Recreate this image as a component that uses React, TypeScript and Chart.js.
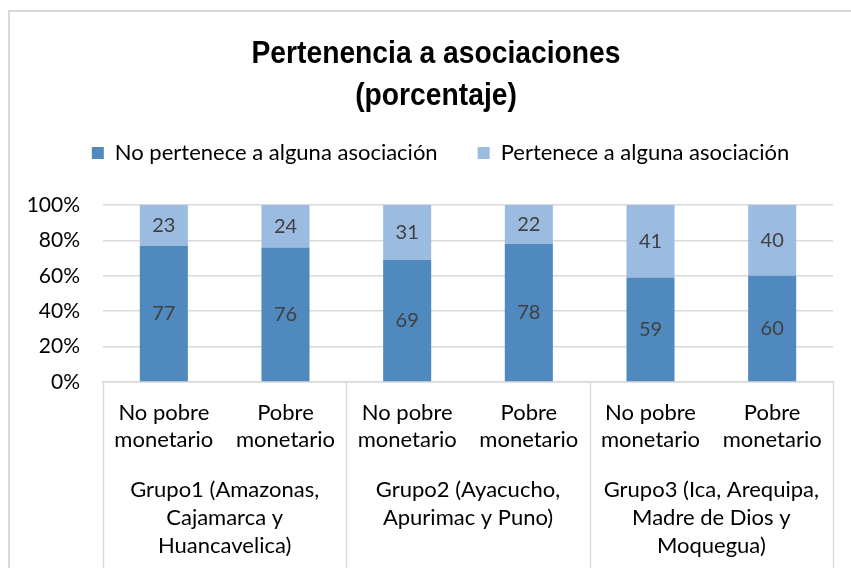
import React, { useEffect, useRef } from "react";
import { Chart, registerables } from "chart.js";

Chart.register(...registerables);

const subCategories: string[][] = [
  ["No pobre", "monetario"],
  ["Pobre", "monetario"],
  ["No pobre", "monetario"],
  ["Pobre", "monetario"],
  ["No pobre", "monetario"],
  ["Pobre", "monetario"],
];
const groups: string[][] = [
  ["Grupo1 (Amazonas,", "Cajamarca y", "Huancavelica)"],
  ["Grupo2 (Ayacucho,", "Apurimac y Puno)"],
  ["Grupo3 (Ica, Arequipa,", "Madre de Dios y", "Moquegua)"],
];
const noPertenece: number[] = [77, 76, 69, 78, 59, 60];
const pertenece: number[] = [23, 24, 31, 22, 41, 40];
const seriesNames: string[] = ["No pertenece a alguna asociación", "Pertenece a alguna asociación"];
const titleLines: string[] = ["Pertenencia a asociaciones", "(porcentaje)"];
const yTickMax = 100;
const yTickStep = 20;

const FONT = "Lato, 'Open Sans', sans-serif";
const GRID = "#d9d9d9";

const titleDraw = {
  id: "titleDraw",
  afterDraw(chart: any) {
    const ctx = chart.ctx;
    ctx.save();
    ctx.font = "bold 32px 'Liberation Sans', Arial, sans-serif";
    ctx.fillStyle = "#000";
    ctx.textAlign = "center";
    ctx.textBaseline = "alphabetic";
    const sx = 0.883;
    ctx.scale(sx, 1);
    const cx = 436 / sx;
    titleLines.forEach((line, i) => {
      ctx.fillText(line, cx, 63 + i * 42);
    });
    ctx.restore();
  },
};

const dataLabels = {
  id: "dataLabels",
  afterDatasetsDraw(chart: any) {
    const ctx = chart.ctx;
    ctx.save();
    ctx.font = `20px ${FONT}`;
    ctx.fillStyle = "#404040";
    ctx.textAlign = "center";
    ctx.textBaseline = "middle";
    chart.data.datasets.forEach((ds: any, di: number) => {
      const meta = chart.getDatasetMeta(di);
      meta.data.forEach((el: any, i: number) => {
        const cy = (el.y + el.base) / 2;
        ctx.fillText(String(ds.data[i]), el.x, cy);
      });
    });
    ctx.restore();
  },
};

const separators = {
  id: "separators",
  afterDraw(chart: any) {
    const x = chart.scales.x;
    const ctx = chart.ctx;
    const bounds = [-0.5, 1.5, 3.5, 5.5];
    ctx.save();
    ctx.strokeStyle = GRID;
    ctx.lineWidth = 1.5;
    bounds.forEach((b) => {
      const px = Math.round(x.getPixelForValue(b)) + 0.5;
      ctx.beginPath();
      ctx.moveTo(px, chart.chartArea.bottom);
      ctx.lineTo(px, chart.height);
      ctx.stroke();
    });
    ctx.restore();
  },
};

const legendSpace = {
  id: "legendSpace",
  beforeInit(chart: any) {
    const fit = chart.legend.fit;
    chart.legend.fit = function () {
      fit.bind(chart.legend)();
      this.height += 31;
    };
  },
  afterLayout(chart: any) {
    chart.legend.left += 24;
    chart.legend.right += 24;
  },
};

export default function App() {
  const ref = useRef<HTMLCanvasElement | null>(null);
  useEffect(() => {
    if (!ref.current) return;
    const chart = new Chart(ref.current, {
      type: "bar",
      data: {
        labels: subCategories,
        datasets: [
          {
            label: seriesNames[0],
            data: noPertenece,
            backgroundColor: "#4F89BD",
            barPercentage: 0.395,
            categoryPercentage: 1,
          },
          {
            label: seriesNames[1],
            data: pertenece,
            backgroundColor: "#9BBCE0",
            barPercentage: 0.395,
            categoryPercentage: 1,
          },
        ],
      },
      options: {
        animation: false,
        responsive: false,
        maintainAspectRatio: false,
        layout: { padding: { top: 102, right: 18, bottom: 0, left: 0 } },
        plugins: {
          title: { display: false },
          legend: {
            display: true,
            position: "top",
            labels: {
              boxWidth: 12,
              boxHeight: 12,
              padding: 40,
              color: "#000",
              font: { family: FONT, size: 22 },
            },
          },
          tooltip: { enabled: false },
        },
        scales: {
          x: {
            type: "category",
            stacked: true,
            weight: 0,
            grid: { display: false, drawTicks: false },
            border: { display: true, color: GRID, width: 1.5 },
            ticks: {
              autoSkip: false,
              maxRotation: 0,
              minRotation: 0,
              padding: 17.5,
              color: "#000",
              font: { family: FONT, size: 22, lineHeight: 1.227 },
            },
            afterFit(scale: any) {
              scale.height = 72;
            },
          },
          x2: {
            type: "category",
            position: "bottom",
            labels: groups as any,
            offset: true,
            weight: 1,
            grid: { display: false, drawTicks: false },
            border: { display: false },
            ticks: {
              autoSkip: false,
              maxRotation: 0,
              minRotation: 0,
              padding: 22,
              color: "#000",
              font: { family: FONT, size: 22, lineHeight: 1.273 },
            },
            afterFit(scale: any) {
              scale.height = 114;
            },
          },
          y: {
            stacked: true,
            min: 0,
            max: yTickMax,
            grid: { color: GRID, lineWidth: 1.5, drawTicks: false },
            border: { display: false },
            ticks: {
              stepSize: yTickStep,
              padding: 23,
              color: "#000",
              font: { family: FONT, size: 21 },
              callback: (v: any) => `${v}%`,
            },
            afterFit(scale: any) {
              scale.width = 103;
            },
          },
        },
      },
      plugins: [dataLabels, separators, legendSpace, titleDraw],
    });
    return () => chart.destroy();
  }, []);

  return (
    <div style={{ position: "fixed", left: 0, top: 0, width: 851, height: 568, background: "#fff" }}>
      <canvas ref={ref} width={851} height={568} style={{ position: "absolute", left: 0, top: 0, width: 851, height: 568 }} />
      <div
        style={{
          position: "absolute",
          left: 8,
          top: 10,
          right: 0,
          bottom: 0,
          borderLeft: `2px solid ${GRID}`,
          borderTop: `2px solid ${GRID}`,
          pointerEvents: "none",
        }}
      />
    </div>
  );
}
